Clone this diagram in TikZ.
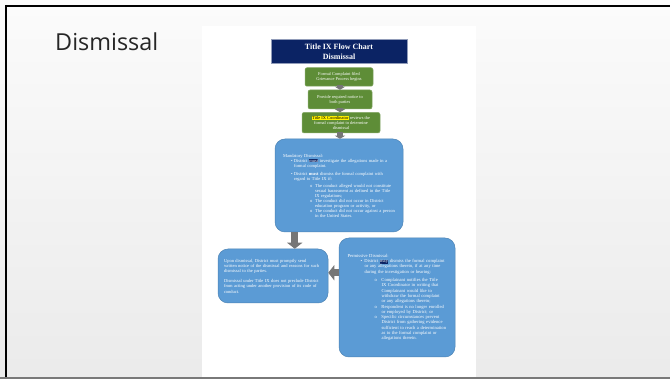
\documentclass[tikz,border=0pt]{standalone}
\usepackage{fontspec}
\setmainfont{Open Sans}
\newfontfamily\chartfont{Liberation Serif}
\usetikzlibrary{arrows.meta}

\definecolor{navy}{HTML}{0B2364}
\definecolor{chartgreen}{HTML}{5E8D37}
\definecolor{chartblue}{HTML}{5B9BD5}
\definecolor{arrowgray}{HTML}{767676}

% list line: mark position, text indent, mark, text
\newcommand\listline[4]{\par\noindent\hangindent=#2\hangafter=1\hbox to #2{\hskip#1#3\hfil}#4\par}
\newcommand\markdark[1]{{\setlength\fboxsep{0.3pt}\colorbox{navy}{#1}}}
\newcommand\markyellow[1]{{\setlength\fboxsep{0.3pt}\colorbox{yellow}{\textcolor{black}{#1}}}}
\newcommand\nohyph{\hyphenpenalty=10000\exhyphenpenalty=10000}

\tikzset{
  titlebox/.style={fill=navy, draw=navy!45!white, line width=0.6pt, text=white,
    align=center, font=\chartfont\bfseries\fontsize{8}{10}\selectfont, inner sep=0pt},
  greenbox/.style={fill=chartgreen, draw=chartgreen!75!white, line width=0.5pt,
    rounded corners=2pt, text=white, align=center, inner sep=0pt,
    font=\chartfont\fontsize{4.4}{4.9}\selectfont},
  bluebox/.style={fill=chartblue, draw=chartblue!85!black, line width=0.5pt,
    rounded corners=10pt, text=white, align=left, inner xsep=0pt, inner ysep=0pt,
    font=\chartfont\fontsize{4.5}{5}\selectfont\nohyph},
  smallarrow/.style={draw=arrowgray, line width=6pt, -{Triangle[width=10pt,length=3pt]}},
  bigarrow/.style={draw=arrowgray, line width=7pt, -{Triangle[width=15pt,length=6pt]}},
}

\begin{document}
\begin{tikzpicture}[x=1pt, y=-1pt]
\useasboundingbox (0,0) rectangle (670,379);

% slide background and frame
\shade[top color=gray!3, bottom color=gray!16] (0,0) rectangle (670,379);
\draw[line width=2pt, black] (5,6) -- (670,6);
\draw[line width=2pt, black] (6,5) -- (6,379);
\draw[line width=2pt, gray!95!black] (0,378) -- (670,378);

% slide heading
\node[anchor=base west, inner sep=0pt, font=\fontsize{23.4}{28}\selectfont, text=black!85]
  (heading) at (55,50.7) {Dismissal};

% document page
\fill[white] (202,26) rectangle (476,377);

% flow chart
\node[titlebox, minimum width=136pt, minimum height=23.5pt] (title) at (339,51.5)
  {Title IX Flow Chart\\Dismissal};

\node[greenbox, minimum width=68pt, minimum height=18.5pt] (g1) at (339,77)
  {Formal Complaint filed\\Grievance Process begins};
\node[greenbox, minimum width=64pt, minimum height=19pt] (g2) at (340,99.5)
  {Provide required notice to\\both parties};
\node[greenbox, minimum width=78pt, minimum height=20.5pt] (g3) at (341,122.7)
  {\markyellow{Title IX Coordinator} reviews the\\formal complaint to determine\\dismissal};

\node[bluebox, minimum width=128pt, minimum height=93pt, text width=112pt] (mand) at (339,185.5)
  {Mandatory Dismissal:
   \listline{8pt}{11pt}{\textbullet}{District \markdark{must} investigate the allegations made in a formal complaint.}\vspace{3pt}
   \listline{8pt}{11pt}{\textbullet}{District \textbf{must} dismiss the formal complaint with regard to Title IX if:}\vspace{2pt}
   \listline{27pt}{32pt}{o}{The conduct alleged would not constitute sexual harassment as defined in the Title IX regulations;}
   \listline{27pt}{32pt}{o}{The conduct did not occur in District education program or activity, or}
   \listline{27pt}{32pt}{o}{The conduct did not occur against a person in the United States.}};

\node[bluebox, minimum width=110pt, minimum height=54pt, text width=98pt,
  font=\chartfont\fontsize{4.5}{5.2}\selectfont\nohyph] (left) at (273,276)
  {Upon dismissal, District must promptly send written notice of the dismissal and reasons for such dismissal to the parties.\par\vspace{5pt}
   Dismissal under Title IX does not preclude District from acting under another provision of its code of conduct.};

\node[bluebox, minimum width=116pt, minimum height=119pt, text width=99pt,
  font=\chartfont\fontsize{4.6}{5.3}\selectfont\nohyph] (perm) at (397,297.5)
  {Permissive Dismissal:
   \listline{13pt}{17pt}{\textbullet}{District \markdark{may} dismiss the formal complaint or any allegations therein, if at any time during the investigation or hearing:}\vspace{3pt}
   \listline{27pt}{34pt}{o}{Complainant notifies the Title IX Coordinator in writing that Complainant would like to withdraw the formal complaint or any allegations therein;}
   \listline{27pt}{34pt}{o}{Respondent is no longer enrolled or employed by District; or}
   \listline{27pt}{34pt}{o}{Specific circumstances prevent District from gathering evidence sufficient to reach a determination as to the formal complaint or allegations therein.}};

% connectors
\draw[smallarrow] ([yshift=1pt]g1.south -| 340,0) -- (g2.north -| 340,0);
\draw[smallarrow] ([yshift=1pt]g2.south -| 340,0) -- (g3.north -| 340,0);
\draw[smallarrow] ([yshift=1pt]g3.south -| 340,0) -- (mand.north -| 340,0);
\draw[bigarrow] ([xshift=20pt]mand.south west) -- ([xshift=20pt]mand.south west |- left.north);
\draw[bigarrow] ([yshift=-35pt]perm.north west) -- ([yshift=-35pt]perm.north west -| left.east);
\end{tikzpicture}
\end{document}
